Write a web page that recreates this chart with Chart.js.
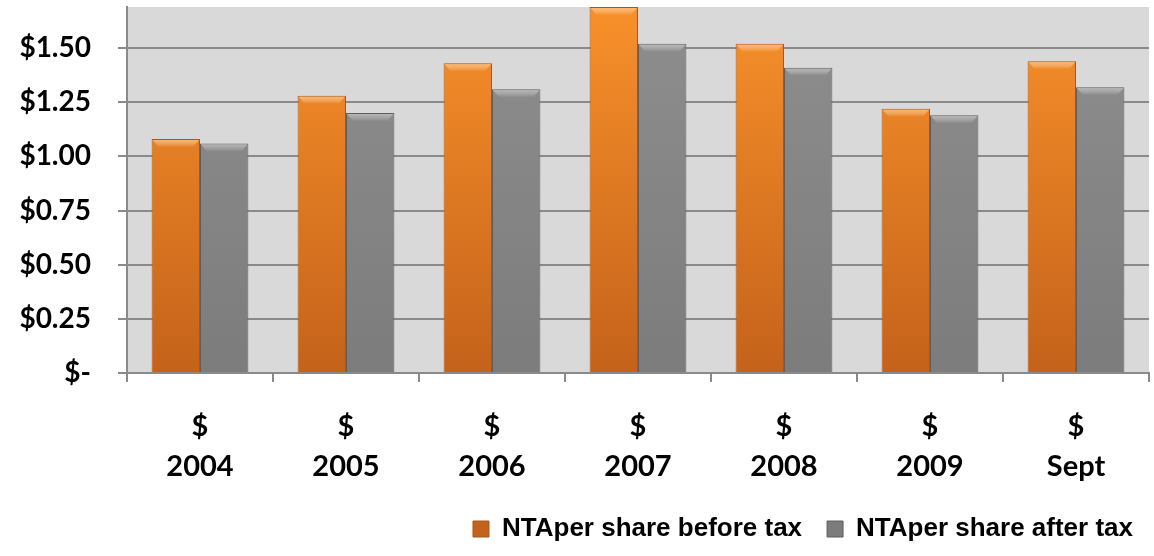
<!DOCTYPE html>
<html>
<head>
<meta charset="utf-8">
<script src="https://cdn.jsdelivr.net/npm/chart.js@4/dist/chart.umd.min.js"></script>
<style>
  body { margin: 0; background: #fff; }
  #wrap { width: 1154px; height: 556px; }
</style>
</head>
<body>
<div id="wrap"><canvas id="chart"></canvas></div>
<script>
// values
const categories = [['$', '2004'], ['$', '2005'], ['$', '2006'], ['$', '2007'], ['$', '2008'], ['$', '2009'], ['$', 'Sept']];
const beforeTax = [1.08, 1.28, 1.43, 1.69, 1.52, 1.22, 1.44];
const afterTax = [1.06, 1.20, 1.31, 1.52, 1.41, 1.19, 1.32];
const seriesNames = ['NTAper share before tax', 'NTAper share after tax'];

function fade(ctx, top, bottom) {
  const area = ctx.chart.chartArea;
  if (!area) return top;
  const g = ctx.chart.ctx.createLinearGradient(0, area.top, 0, area.bottom);
  g.addColorStop(0, top);
  g.addColorStop(1, bottom);
  return g;
}

const bevelColors = ['rgba(255,200,130,0.75)', 'rgba(215,215,215,0.6)'];

const plotBg = {
  id: 'plotBg',
  beforeDraw(chart) {
    const a = chart.chartArea;
    const c = chart.ctx;
    c.save();
    c.fillStyle = '#d9d9d9';
    c.fillRect(a.left, a.top, a.right - a.left, a.bottom - a.top);
    c.restore();
  },
  afterLayout(chart) {
    // push the legend toward the right edge
    chart.legend.left += 9;
    chart.legend.right += 9;
  },
  afterDatasetsDraw(chart) {
    // light bevel on top of each bar
    const c = chart.ctx;
    chart.data.datasets.forEach((ds, i) => {
      chart.getDatasetMeta(i).data.forEach(bar => {
        const l = bar.x - bar.width / 2, r = bar.x + bar.width / 2;
        const g = c.createLinearGradient(0, bar.y, 0, bar.y + 8);
        g.addColorStop(0, bevelColors[i]);
        g.addColorStop(1, 'rgba(255,255,255,0)');
        c.save();
        c.fillStyle = g;
        c.beginPath();
        c.moveTo(l + 1, bar.y + 1);
        c.lineTo(r - 1, bar.y + 1);
        c.lineTo(r - 7, bar.y + 8);
        c.lineTo(l + 7, bar.y + 8);
        c.closePath();
        c.fill();
        c.restore();
      });
    });
  }
};

const chart = document.getElementById('chart').getContext('2d');
new Chart(chart, {
  type: 'bar',
  data: {
    labels: categories,
    datasets: [
      {
        label: seriesNames[0],
        data: beforeTax,
        backgroundColor: ctx => fade(ctx, '#f8902a', '#c4621b'),
        borderColor: '#a9561a',
        borderWidth: 1,
        categoryPercentage: 0.663,
        barPercentage: 1.0
      },
      {
        label: seriesNames[1],
        data: afterTax,
        backgroundColor: ctx => fade(ctx, '#8e8e8e', '#7c7c7c'),
        borderColor: '#5e5e5e',
        borderWidth: 1,
        categoryPercentage: 0.663,
        barPercentage: 1.0
      }
    ]
  },
  options: {
    responsive: true,
    maintainAspectRatio: false,
    animation: false,
    layout: { padding: { top: 7, right: 5, left: 0, bottom: 4 } },
    plugins: {
      tooltip: { enabled: false },
      legend: {
        position: 'bottom',
        align: 'end',
        labels: {
          boxWidth: 16,
          boxHeight: 16,
          padding: 25,
          color: '#000',
          font: { family: "'Liberation Sans', Arial, sans-serif", weight: 'bold', size: 26 }
        }
      }
    },
    scales: {
      x: {
        grid: { drawOnChartArea: false, drawTicks: true, tickLength: 9, color: '#8a8a8a', lineWidth: 2 },
        border: { color: '#8a8a8a', width: 2 },
        ticks: {
          color: '#000',
          padding: 24,
          maxRotation: 0,
          font: { family: 'Lato', weight: 'bold', size: 29, lineHeight: 1.4 }
        },
        afterFit(scale) { scale.height = 118; }
      },
      y: {
        min: 0,
        max: 1.69,
        grid: { color: '#8a8a8a', lineWidth: 2, tickLength: 9 },
        border: { color: '#8a8a8a', width: 2 },
        ticks: {
          stepSize: 0.25,
          includeBounds: false,
          padding: 27,
          color: '#000',
          font: { family: 'Lato', weight: 'bold', size: 28 },
          callback: v => v === 0 ? '$-' : '$' + v.toFixed(2)
        },
        afterFit(scale) {
          scale.width = 127;
          scale.paddingTop = 0;
          scale.paddingBottom = 0;
        }
      }
    }
  },
  plugins: [plotBg]
});
</script>
</body>
</html>
